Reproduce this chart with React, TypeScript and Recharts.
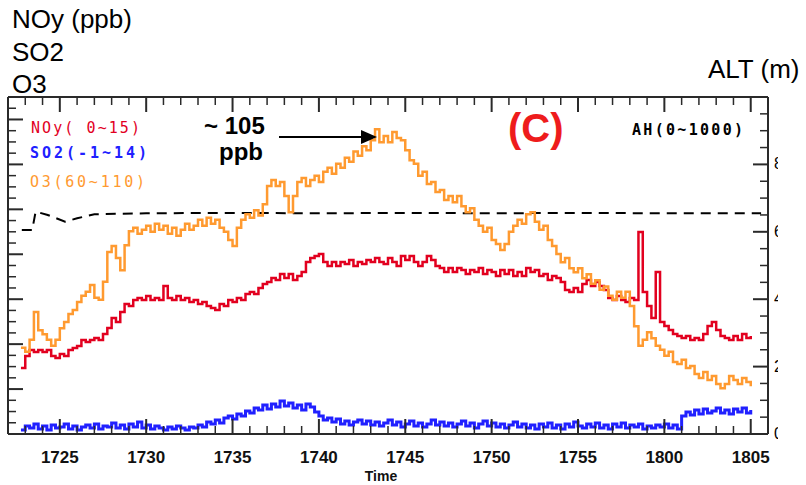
import { LineChart, Line, XAxis, YAxis } from "recharts";

// samples every 15 s from 17:22:45 (minutes after 17:00)
const T0 = 22.75;
const STEP = 0.25;

const NOY = [
  2.94, 3.47, 3.74, 3.65, 3.74, 3.65, 3.74, 3.47, 3.38, 3.56,
  3.47, 3.74, 3.83, 3.92, 4.18, 4.09, 4.18, 4.27, 4.18, 4.45,
  4.72, 5.16, 4.99, 5.43, 5.79, 5.7, 5.96, 6.05, 5.96, 6.14,
  5.96, 6.05, 5.96, 6.59, 6.05, 5.96, 6.14, 5.96, 6.05, 5.88,
  5.96, 5.79, 5.88, 5.7, 5.61, 5.52, 5.79, 5.7, 5.96, 5.88,
  6.05, 5.96, 6.23, 6.32, 6.23, 6.5, 6.68, 6.77, 6.94, 6.85,
  7.12, 6.94, 7.12, 6.85, 7.03, 7.21, 7.66, 7.83, 7.92, 8.01,
  7.66, 7.48, 7.66, 7.48, 7.66, 7.57, 7.74, 7.48, 7.66, 7.57,
  7.74, 7.66, 7.83, 7.66, 7.57, 7.83, 7.66, 7.48, 7.92, 7.74,
  7.92, 7.66, 7.48, 7.66, 7.92, 7.74, 7.48, 7.39, 7.21, 7.39,
  7.21, 7.39, 7.3, 7.12, 7.3, 7.21, 7.39, 7.12, 7.3, 7.21,
  7.03, 7.3, 7.12, 7.3, 7.03, 7.21, 7.03, 7.39, 7.21, 7.3,
  7.03, 7.12, 6.85, 7.03, 6.94, 6.77, 6.41, 6.32, 6.5, 6.32,
  6.68, 6.85, 6.59, 6.77, 6.59, 6.41, 6.05, 5.96, 6.14, 5.96,
  5.88, 6.05, 5.96, 8.99, 6.32, 5.7, 5.16, 7.21, 4.99, 4.81,
  4.63, 4.45, 4.36, 4.27, 4.36, 4.18, 4.27, 4.18, 4.45, 4.81,
  4.99, 4.63, 4.36, 4.27, 4.18, 4.36, 4.18, 4.45, 4.27, 4.36,
];

const SO2 = [
  -0.82, -0.64, -0.73, -0.55, -0.78, -0.64, -0.82, -0.6, -0.73, -0.69,
  -0.55, -0.78, -0.64, -0.82, -0.69, -0.6, -0.73, -0.55, -0.78, -0.64,
  -0.69, -0.51, -0.73, -0.6, -0.78, -0.55, -0.69, -0.47, -0.73, -0.6,
  -0.78, -0.64, -0.73, -0.82, -0.69, -0.78, -0.64, -0.73, -0.82, -0.69,
  -0.73, -0.6, -0.69, -0.47, -0.55, -0.38, -0.51, -0.29, -0.2, -0.33,
  -0.11, -0.2, 0.02, -0.07, 0.16, 0.07, 0.29, 0.11, 0.34, 0.2,
  0.47, 0.25, 0.38, 0.16, 0.29, 0.07, 0.34, 0.2, -0.02, -0.2,
  -0.38, -0.29, -0.47, -0.33, -0.55, -0.42, -0.6, -0.47, -0.38, -0.55,
  -0.42, -0.6, -0.47, -0.64, -0.51, -0.38, -0.6, -0.47, -0.69, -0.55,
  -0.42, -0.64, -0.51, -0.69, -0.55, -0.38, -0.6, -0.47, -0.64, -0.51,
  -0.69, -0.55, -0.42, -0.64, -0.51, -0.73, -0.55, -0.42, -0.64, -0.51,
  -0.69, -0.55, -0.73, -0.6, -0.47, -0.69, -0.55, -0.73, -0.6, -0.78,
  -0.55, -0.69, -0.51, -0.73, -0.6, -0.78, -0.55, -0.69, -0.47, -0.64,
  -0.73, -0.55, -0.69, -0.51, -0.73, -0.6, -0.78, -0.55, -0.69, -0.51,
  -0.73, -0.6, -0.69, -0.55, -0.78, -0.64, -0.73, -0.6, -0.69, -0.55,
  -0.73, -0.6, -0.78, -0.2, -0.02, -0.15, 0.07, -0.11, 0.11, -0.07,
  0.02, 0.16, -0.07, 0.07, -0.11, 0.11, -0.02, 0.16, -0.07, 0.07,
];

const O3 = [
  72.8, 72.2, 74.0, 78.1, 75.4, 74.8, 74.0, 73.1, 74.0, 75.7,
  76.6, 77.8, 78.4, 79.6, 80.5, 81.1, 82.1, 80.2, 79.9, 82.6,
  87.0, 87.9, 86.1, 84.3, 88.0, 90.1, 90.6, 89.7, 90.3, 90.9,
  90.0, 91.2, 90.3, 90.9, 89.7, 90.6, 89.4, 90.3, 91.2, 90.3,
  90.9, 91.8, 90.9, 92.1, 91.2, 91.8, 90.6, 90.0, 88.8, 87.9,
  90.6, 91.8, 92.6, 92.1, 93.2, 92.4, 94.1, 96.8, 97.7, 96.8,
  97.4, 95.3, 92.9, 95.3, 97.4, 98.0, 96.8, 97.7, 98.3, 97.4,
  98.9, 99.5, 98.6, 100.1, 99.5, 101.0, 100.4, 101.9, 101.3, 102.7,
  102.1, 103.6, 105.2, 103.3, 104.2, 103.3, 104.8, 103.9, 103.6, 102.1,
  100.6, 100.1, 98.3, 98.9, 97.1, 97.4, 95.9, 96.2, 94.7, 95.3,
  94.4, 95.3, 93.8, 92.9, 93.5, 91.8, 90.9, 90.0, 90.6, 88.8,
  88.2, 87.3, 88.2, 90.0, 90.9, 91.8, 91.2, 92.6, 92.9, 91.5,
  90.3, 90.9, 88.8, 87.9, 86.7, 85.5, 86.1, 84.6, 84.0, 84.6,
  83.1, 83.7, 82.3, 82.8, 81.4, 81.9, 80.5, 79.9, 81.1, 80.2,
  81.1, 79.0, 76.0, 73.1, 74.0, 75.1, 74.2, 73.1, 72.5, 71.6,
  72.2, 70.7, 70.4, 71.0, 69.8, 70.1, 68.9, 68.3, 69.2, 68.0,
  68.6, 67.4, 66.8, 67.4, 68.6, 68.0, 67.4, 68.3, 67.7, 67.1,
];

const ALT_T = [22.8, 23.4, 23.6, 24.3, 25.3, 26.0, 27.0, 30, 35, 40, 45, 50, 55, 60, 65.6];
const ALT = [605, 605, 660, 650, 630, 640, 652, 655, 656, 655, 656, 655, 656, 655, 655];

const X_TICKS = [25, 30, 35, 40, 45, 50, 55, 60, 65];
const X_LABELS = ["1725", "1730", "1735", "1740", "1745", "1750", "1755", "1800", "1805"];
const MINUTES = [
  22, 23, 24, 25, 26, 27, 28, 29, 30, 31, 32, 33, 34, 35, 36, 37, 38, 39, 40, 41, 42, 43,
  44, 45, 46, 47, 48, 49, 50, 51, 52, 53, 54, 55, 56, 57, 58, 59, 60, 61, 62, 63, 64, 65, 66,
];
const NOY_MAJOR = [0, 2, 4, 6, 8, 10, 12, 14];
const NOY_MINOR = [
  0, 0.5, 1, 1.5, 2, 2.5, 3, 3.5, 4, 4.5, 5, 5.5, 6, 6.5, 7, 7.5,
  8, 8.5, 9, 9.5, 10, 10.5, 11, 11.5, 12, 12.5, 13, 13.5, 14, 14.5, 15,
];
const ALT_MAJOR = [0, 200, 400, 600, 800, 1000];
const ALT_MINOR = [
  0, 50, 100, 150, 200, 250, 300, 350, 400, 450, 500,
  550, 600, 650, 700, 750, 800, 850, 900, 950, 1000,
];
const ALT_LABELS = [0, 200, 400, 600, 800];

const rows = (vals: number[]) => vals.map((v, i) => ({ t: T0 + i * STEP, v }));
const altRows = ALT_T.map((t, i) => ({ t, v: ALT[i] }));

const FONT = "Liberation Sans, Arial, Helvetica, sans-serif";
const FRAME = "#2a2a2a";

// inward tick marks, long on majors, short on minors
const makeTick = (majors: number[], dx: number, dy: number) => (props: any) => {
  const { x, y, payload } = props;
  const major = majors.includes(payload.value);
  const len = major ? 15 : 8;
  return (
    <line x1={x} y1={y} x2={x + dx * len} y2={y + dy * len} stroke={FRAME} strokeWidth={major ? 2 : 1.5} />
  );
};
const TopTick = makeTick(X_TICKS, 0, 1);
const LeftTick = makeTick(NOY_MAJOR, 1, 0);
const RightTick = makeTick(ALT_MAJOR, -1, 0);

// bottom axis: inward tick plus the time label on the 5-minute marks
const BottomTick = (props: any) => {
  const { x, y, payload } = props;
  const idx = X_TICKS.indexOf(payload.value);
  const major = idx >= 0;
  const len = major ? 15 : 8;
  return (
    <g>
      <line x1={x} y1={y} x2={x} y2={y - len} stroke={FRAME} strokeWidth={major ? 2 : 1.5} />
      {major && (
        <text x={x} y={y + 29} textAnchor="middle" fill="#111" fontSize={17} fontWeight="bold" fontFamily={FONT}>
          {X_LABELS[idx]}
        </text>
      )}
    </g>
  );
};

// right-hand labels; the original image crops them to a sliver (masked below)
const AltLabel = (props: any) => {
  const { x, y, payload } = props;
  return (
    <text x={x} y={y + 5} fontSize={16} fontFamily={FONT} fill="#000">
      {payload.value}
    </text>
  );
};

const App = () => {
  return (
    <div style={{ position: "absolute", left: 0, top: 0, width: 806, height: 485, background: "#fff" }}>
      <LineChart width={806} height={485} margin={{ top: 97, right: 37, bottom: 0, left: 8 }}>
        <XAxis
          xAxisId="x"
          type="number"
          dataKey="t"
          domain={[22, 66]}
          allowDataOverflow
          ticks={MINUTES}
          interval={0}
          height={51}
          tickSize={0}
          tickMargin={0}
          tickLine={false}
          axisLine={{ stroke: FRAME, strokeWidth: 2 }}
          tick={BottomTick}
        />
        <XAxis xAxisId="tTicks" orientation="top" type="number" dataKey="t" domain={[22, 66]} allowDataOverflow
          ticks={MINUTES} interval={0} mirror tick={TopTick} tickSize={0} tickMargin={0} tickLine={false}
          axisLine={{ stroke: FRAME, strokeWidth: 2 }} />

        <YAxis yAxisId="noy" type="number" domain={[0, 15]} allowDataOverflow ticks={NOY_MINOR} interval={0}
          mirror tick={LeftTick} tickSize={0} tickMargin={0} tickLine={false}
          axisLine={{ stroke: FRAME, strokeWidth: 2 }} />
        <YAxis yAxisId="so2" type="number" domain={[-1, 14]} allowDataOverflow hide />
        <YAxis yAxisId="o3" type="number" domain={[60, 110]} allowDataOverflow hide />
        <YAxis yAxisId="alt" orientation="right" type="number" domain={[0, 1000]} allowDataOverflow ticks={ALT_MINOR}
          interval={0} mirror tick={RightTick} tickSize={0} tickMargin={0} tickLine={false}
          axisLine={{ stroke: FRAME, strokeWidth: 2 }} />
        <YAxis yAxisId="altLab" orientation="right" type="number" domain={[0, 1000]} allowDataOverflow ticks={ALT_LABELS}
          interval={0} width={1} tickSize={0} tickMargin={6} tickLine={false} axisLine={false} tick={AltLabel} />

        <Line data={altRows} dataKey="v" xAxisId="x" yAxisId="alt" type="linear" stroke="#000" strokeWidth={2}
          strokeDasharray="10 7" dot={false} isAnimationActive={false} />
        <Line data={rows(SO2)} dataKey="v" xAxisId="x" yAxisId="so2" type="stepAfter" stroke="#2020ff" strokeWidth={3}
          dot={false} isAnimationActive={false} />
        <Line data={rows(NOY)} dataKey="v" xAxisId="x" yAxisId="noy" type="stepAfter" stroke="#e2001f"
          strokeWidth={2.5} dot={false} isAnimationActive={false} />
        <Line data={rows(O3)} dataKey="v" xAxisId="tTicks" yAxisId="o3" type="stepAfter" stroke="#ff9a30"
          strokeWidth={2.5} dot={false} isAnimationActive={false} />
      </LineChart>

      <svg width={806} height={485} style={{ position: "absolute", left: 0, top: 0, pointerEvents: "none" }}>
        {/* crop of the right-hand labels, as in the source image */}
        <rect x={778} y={140} width={28} height={310} fill="#fff" />
        <g fontFamily={FONT} fill="#000" fontSize={26}>
          <text x={12} y={28}>NOy (ppb)</text>
          <text x={12} y={61}>SO2</text>
          <text x={12} y={93}>O3</text>
          <text x={708} y={78}>ALT (m)</text>
        </g>
        <g fontFamily="DejaVu Sans Mono, monospace" fontSize={15}>
          <text x={31} y={133} fill="#e2001f" textLength={109} lengthAdjust="spacing">NOy( 0~15)</text>
          <text x={30} y={158} fill="#2020ff" fontWeight="bold" textLength={117} lengthAdjust="spacing">SO2(-1~14)</text>
          <text x={30} y={187} fill="#ff9a30" textLength={115} lengthAdjust="spacing">O3(60~110)</text>
          <text x={632} y={135} fill="#000" fontWeight="bold" textLength={111} lengthAdjust="spacing">AH(0~1000)</text>
        </g>
        <text x={508} y={142} fontFamily={FONT} fontSize={40} fontWeight="bold" fill="#ee1c1c">(C)</text>
        <g fontFamily={FONT} fontSize={24} fontWeight="bold" fill="#000">
          <text x={204} y={134}>~ 105</text>
          <text x={219} y={160}>ppb</text>
        </g>
        <line x1={279} y1={137} x2={364} y2={137} stroke="#000" strokeWidth={2} />
        <polygon points="361,130 377,137 361,144" fill="#000" />
        <text x={381} y={481} textAnchor="middle" fontFamily={FONT} fontSize={14} fontWeight="bold" fill="#111">
          Time
        </text>
      </svg>
    </div>
  );
};

export default App;
